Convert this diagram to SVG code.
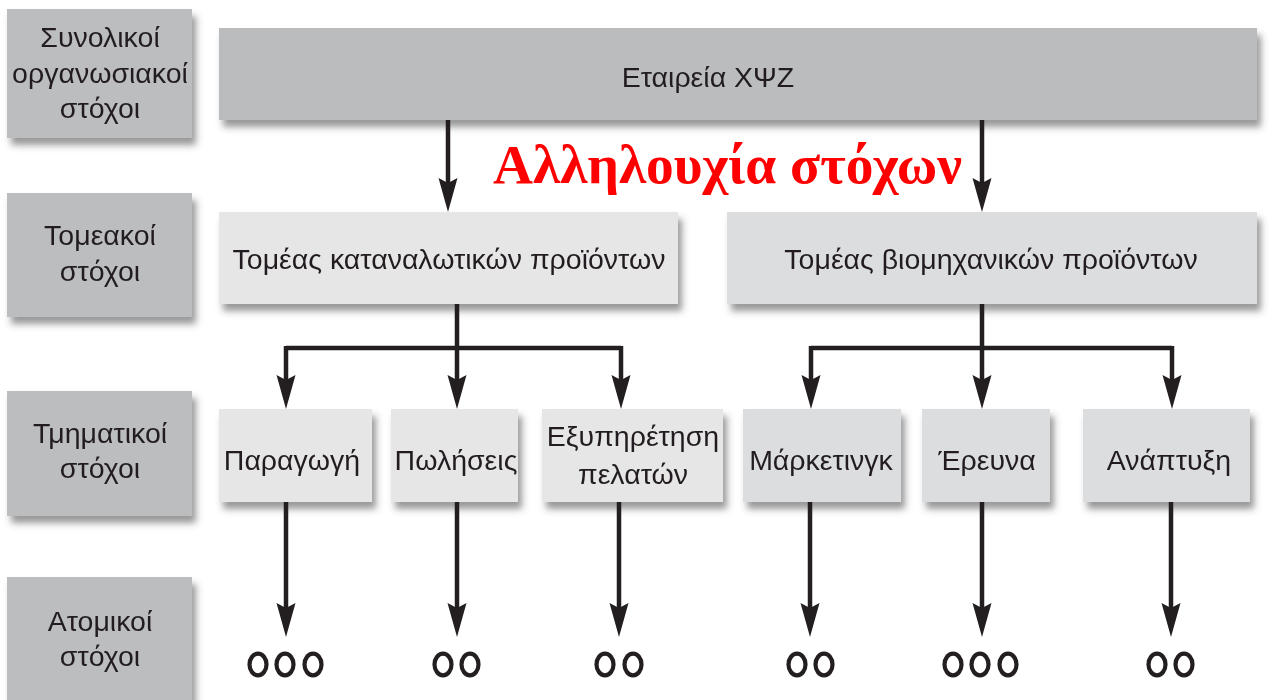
<svg xmlns="http://www.w3.org/2000/svg" width="1269" height="700" viewBox="0 0 1269 700">
<defs>
<style>
.lbl{fill:#bcbdbf}
.top{fill:#bbbcbe}
.lt{fill:#e6e6e6}
.dk{fill:#dcdddf}
text{font-family:"Liberation Sans",Arial,sans-serif;font-size:28.5px;fill:#231f20;text-anchor:middle}
.red{font-family:"Liberation Serif","Times New Roman",serif;font-weight:bold;font-size:55px;fill:#ff0000;text-anchor:start}
.ln{stroke:#231f20;stroke-width:4.5;fill:none}
.oo{fill:none;stroke:#231f20;stroke-width:4.2}
</style>
<filter id="sh" x="-10%" y="-10%" width="125%" height="140%">
<feDropShadow dx="4" dy="7" stdDeviation="3.5" flood-color="#444" flood-opacity="0.55"/>
</filter>
<marker id="ah" markerUnits="userSpaceOnUse" markerWidth="40" markerHeight="24" viewBox="0 -12 40 24" refX="6" refY="0" orient="auto">
<path d="M0,-9.5 L34,0 L0,9.5 L5,0 z" fill="#231f20"/>
</marker>
</defs>
<rect width="1269" height="700" fill="#ffffff"/>

<g id="label-synolikoi" filter="url(#sh)">
<rect class="lbl" x="7" y="9" width="185" height="129"/>
<text x="100" y="47">Συνολικοί</text>
<text x="100" y="83">οργανωσιακοί</text>
<text x="100" y="118">στόχοι</text>
</g>
<g id="label-tomeakoi" filter="url(#sh)">
<rect class="lbl" x="7" y="193" width="185" height="124"/>
<text x="100" y="245">Τομεακοί</text>
<text x="100" y="281">στόχοι</text>
</g>
<g id="label-tmimatikoi" filter="url(#sh)">
<rect class="lbl" x="7" y="391" width="185" height="125"/>
<text x="100" y="443">Τμηματικοί</text>
<text x="100" y="478">στόχοι</text>
</g>
<g id="label-atomikoi" filter="url(#sh)">
<rect class="lbl" x="7" y="577" width="185" height="140"/>
<text x="100" y="631">Ατομικοί</text>
<text x="100" y="666">στόχοι</text>
</g>

<g id="company" filter="url(#sh)">
<rect class="top" x="219" y="28" width="1038" height="92"/>
<text x="708" y="87">Εταιρεία ΧΨΖ</text>
</g>
<g id="sector-consumer" filter="url(#sh)">
<rect class="lt" x="219" y="212" width="459" height="92"/>
<text x="449" y="269">Τομέας καταναλωτικών προϊόντων</text>
</g>
<g id="sector-industrial" filter="url(#sh)">
<rect class="dk" x="727" y="212" width="530" height="92"/>
<text x="991" y="269">Τομέας βιομηχανικών προϊόντων</text>
</g>

<g id="dep-production" filter="url(#sh)">
<rect class="lt" x="219" y="409" width="153" height="93"/>
<text x="292" y="470">Παραγωγή</text>
</g>
<g id="dep-sales" filter="url(#sh)">
<rect class="lt" x="391" y="409" width="127" height="93"/>
<text x="456" y="470">Πωλήσεις</text>
</g>
<g id="dep-service" filter="url(#sh)">
<rect class="lt" x="542" y="409" width="181" height="93"/>
<text x="633" y="446">Εξυπηρέτηση</text>
<text x="633" y="484">πελατών</text>
</g>
<g id="dep-marketing" filter="url(#sh)">
<rect class="dk" x="743" y="409" width="158" height="93"/>
<text x="821" y="470">Μάρκετινγκ</text>
</g>
<g id="dep-research" filter="url(#sh)">
<rect class="dk" x="922" y="409" width="128" height="93"/>
<text x="987" y="470">Έρευνα</text>
</g>
<g id="dep-development" filter="url(#sh)">
<rect class="dk" x="1083" y="409" width="167" height="93"/>
<text x="1169" y="470">Ανάπτυξη</text>
</g>

<text class="red" x="493" y="183" textLength="469" lengthAdjust="spacingAndGlyphs">Αλληλουχία στόχων</text>

<g id="connectors">
<path class="ln" d="M448,120 V184" marker-end="url(#ah)"/>
<path class="ln" d="M982,120 V184" marker-end="url(#ah)"/>
<path class="ln" d="M457,304 V348 M286,348 H621"/>
<path class="ln" d="M286,346 V381" marker-end="url(#ah)"/>
<path class="ln" d="M457,348 V381" marker-end="url(#ah)"/>
<path class="ln" d="M621,346 V381" marker-end="url(#ah)"/>
<path class="ln" d="M982,304 V348 M811,348 H1172"/>
<path class="ln" d="M811,346 V381" marker-end="url(#ah)"/>
<path class="ln" d="M982,348 V381" marker-end="url(#ah)"/>
<path class="ln" d="M1172,346 V381" marker-end="url(#ah)"/>
<path class="ln" d="M286,502 V609" marker-end="url(#ah)"/>
<path class="ln" d="M457,502 V609" marker-end="url(#ah)"/>
<path class="ln" d="M619,502 V609" marker-end="url(#ah)"/>
<path class="ln" d="M810,502 V609" marker-end="url(#ah)"/>
<path class="ln" d="M982,502 V609" marker-end="url(#ah)"/>
<path class="ln" d="M1171,502 V609" marker-end="url(#ah)"/>
</g>

<g id="individuals">
<ellipse class="oo" cx="258" cy="664.5" rx="8.5" ry="10.8"/>
<ellipse class="oo" cx="285" cy="664.5" rx="8.5" ry="10.8"/>
<ellipse class="oo" cx="313" cy="664.5" rx="8.5" ry="10.8"/>
<ellipse class="oo" cx="443" cy="664.5" rx="8.5" ry="10.8"/>
<ellipse class="oo" cx="470" cy="664.5" rx="8.5" ry="10.8"/>
<ellipse class="oo" cx="605" cy="664.5" rx="8.5" ry="10.8"/>
<ellipse class="oo" cx="633" cy="664.5" rx="8.5" ry="10.8"/>
<ellipse class="oo" cx="797" cy="664.5" rx="8.5" ry="10.8"/>
<ellipse class="oo" cx="824" cy="664.5" rx="8.5" ry="10.8"/>
<ellipse class="oo" cx="953" cy="664.5" rx="8.5" ry="10.8"/>
<ellipse class="oo" cx="980" cy="664.5" rx="8.5" ry="10.8"/>
<ellipse class="oo" cx="1008" cy="664.5" rx="8.5" ry="10.8"/>
<ellipse class="oo" cx="1157" cy="664.5" rx="8.5" ry="10.8"/>
<ellipse class="oo" cx="1184" cy="664.5" rx="8.5" ry="10.8"/>
</g>
</svg>
